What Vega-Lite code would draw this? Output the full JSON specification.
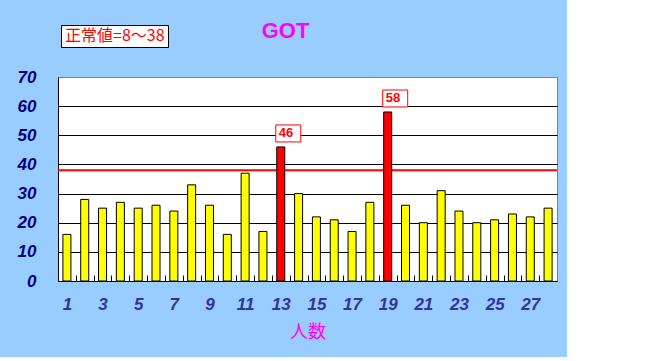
{
  "$schema": "https://vega.github.io/schema/vega-lite/v6.json",
  "width": 499,
  "height": 204,
  "autosize": {"type": "none"},
  "padding": {"left": 58, "top": 77, "right": 10, "bottom": 76},
  "background": "#99CCFF",
  "config": {
    "view": {"fill": "white", "stroke": "#808080", "strokeWidth": 1},
    "axisY": {
      "values": [0, 10, 20, 30, 40, 50, 60, 70],
      "tickCount": 8
    }
  },
  "title": {
    "text": "GOT",
    "color": "#FF00FF",
    "font": "Liberation Sans",
    "fontSize": 22,
    "fontWeight": "bold",
    "anchor": "middle",
    "frame": "group",
    "dx": -22,
    "baseline": "alphabetic",
    "offset": -35
  },
  "datasets": {
    "got": [
      {"n": 1, "value": 16}, {"n": 2, "value": 28}, {"n": 3, "value": 25}, {"n": 4, "value": 27},
      {"n": 5, "value": 25}, {"n": 6, "value": 26}, {"n": 7, "value": 24}, {"n": 8, "value": 33},
      {"n": 9, "value": 26}, {"n": 10, "value": 16}, {"n": 11, "value": 37}, {"n": 12, "value": 17},
      {"n": 13, "value": 46}, {"n": 14, "value": 30}, {"n": 15, "value": 22}, {"n": 16, "value": 21},
      {"n": 17, "value": 17}, {"n": 18, "value": 27}, {"n": 19, "value": 58}, {"n": 20, "value": 26},
      {"n": 21, "value": 20}, {"n": 22, "value": 31}, {"n": 23, "value": 24}, {"n": 24, "value": 20},
      {"n": 25, "value": 21}, {"n": 26, "value": 23}, {"n": 27, "value": 22}, {"n": 28, "value": 25}
    ],
    "limit": [
      {"limit": 38, "label": "正常値=8～38"}
    ]
  },
  "layer": [
    {
      "data": {"name": "got"},
      "mark": {"type": "bar", "opacity": 0},
      "encoding": {
        "x": {
          "field": "n", "type": "ordinal",
          "scale": {"paddingInner": 0.55, "paddingOuter": 0.275},
          "axis": {
            "title": "人数",
            "titleFont": "Noto Sans CJK JP",
            "titleFontSize": 18,
            "titleFontWeight": "normal",
            "titleColor": "#FF00FF",
            "titlePadding": 11,
            "labelExpr": "datum.value % 2 === 1 ? datum.label : ''",
            "labelAngle": 0,
            "labelFont": "Liberation Sans",
            "labelFontSize": 17,
            "labelFontStyle": "italic",
            "labelFontWeight": "bold",
            "labelColor": "#333399",
            "labelPadding": 21,
            "labelOffset": 4.9,
            "labelOverlap": false,
            "bandPosition": 0,
            "tickOffset": -4.9,
            "tickSize": -6,
            "tickColor": "black",
            "domainColor": "black",
            "grid": false
          }
        },
        "y": {
          "field": "value", "type": "quantitative",
          "scale": {"domain": [0, 70], "nice": false},
          "axis": {
            "title": null,
            "values": [0, 10, 20, 30, 40, 50, 60, 70],
            "tickCount": 8,
            "ticks": false,
            "labelOverlap": false,
            "labelFont": "Liberation Sans Narrow, Liberation Sans",
            "labelFontSize": 17,
            "labelFontStyle": "italic",
            "labelFontWeight": "bold",
            "labelColor": "#000080",
            "labelPadding": 22,
            "domainColor": "black",
            "grid": true,
            "gridColor": {"condition": {"test": "datum.value === 70", "value": "#808080"}, "value": "black"},
            "gridOpacity": 1
          }
        }
      }
    },
    {
      "data": {"name": "limit"},
      "mark": {"type": "rule", "strokeWidth": 2},
      "encoding": {
        "y": {"field": "limit", "type": "quantitative", "axis": {"values": [0, 10, 20, 30, 40, 50, 60, 70], "tickCount": 8}},
        "color": {
          "field": "label", "type": "nominal",
          "scale": {"range": ["#FF0000"]},
          "legend": {
            "title": null,
            "orient": "none",
            "legendX": 3,
            "legendY": -52,
            "fillColor": "white",
            "strokeColor": "black",
            "padding": 3,
            "symbolSize": 0,
            "symbolStrokeWidth": 0,
            "symbolOpacity": 0,
            "labelOffset": -15,
            "labelFont": "Noto Sans CJK JP",
            "labelFontSize": 16,
            "labelColor": "#FF0000",
            "labelLimit": 300
          }
        }
      }
    },
    {
      "data": {"name": "got"},
      "mark": {"type": "bar", "stroke": "black", "strokeWidth": 1},
      "encoding": {
        "x": {"field": "n", "type": "ordinal"},
        "y": {"field": "value", "type": "quantitative", "axis": {"values": [0, 10, 20, 30, 40, 50, 60, 70], "tickCount": 8}},
        "fill": {"condition": {"test": "datum.value > 38", "value": "#FF0000"}, "value": "#FFFF00"}
      }
    },
    {
      "data": {"name": "got"},
      "transform": [{"filter": "datum.value > 38"}],
      "mark": {
        "type": "point",
        "shape": "M-0.4,-1.76H1.6V-0.4H-0.4Z",
        "size": 625,
        "filled": true,
        "fill": "white",
        "stroke": "#FF0000",
        "strokeWidth": 1,
        "opacity": 1
      },
      "encoding": {
        "x": {"field": "n", "type": "ordinal"},
        "y": {"field": "value", "type": "quantitative", "axis": {"values": [0, 10, 20, 30, 40, 50, 60, 70], "tickCount": 8}}
      }
    },
    {
      "data": {"name": "got"},
      "transform": [{"filter": "datum.value > 38"}],
      "mark": {
        "type": "text",
        "align": "left",
        "baseline": "middle",
        "dx": -2,
        "dy": -13.5,
        "font": "Liberation Sans",
        "fontSize": 13,
        "fontWeight": "bold",
        "color": "#FF0000"
      },
      "encoding": {
        "x": {"field": "n", "type": "ordinal"},
        "y": {"field": "value", "type": "quantitative", "axis": {"values": [0, 10, 20, 30, 40, 50, 60, 70], "tickCount": 8}},
        "text": {"field": "value", "type": "quantitative"}
      }
    }
  ]
}
